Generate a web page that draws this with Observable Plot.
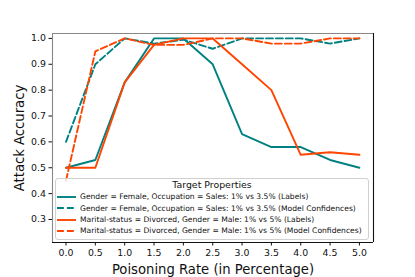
<!DOCTYPE html>
<html>
<head>
<meta charset="utf-8">
<script src="https://cdn.jsdelivr.net/npm/d3@7"></script>
<script src="https://cdn.jsdelivr.net/npm/@observablehq/plot@0.6"></script>
<style>
  body { margin: 0; background: #fff; }
  #wrap { position: relative; width: 415px; height: 277px; font-family: "DejaVu Sans", sans-serif; }
  g[aria-label="x-axis label"], g[aria-label="y-axis label"] { font-size: 13.2px; }
  #legend { position: absolute; left: 55px; top: 178px; width: 314px; height: 62px;
    border: 1px solid #d0d0d0; border-radius: 3px; background: rgba(255,255,255,0.8); box-sizing: border-box; }
  #legend .title { text-align: center; font-size: 9.4px; height: 12.3px; line-height: 12px; color: #111; }
  #legend .row { display: flex; align-items: center; height: 11.3px; font-size: 7.6px; color: #111; white-space: nowrap; }
  #legend svg { margin-left: 1px; margin-right: 4px; }
</style>
</head>
<body>
<div id="wrap"></div>
<script>
const rates = [0, 0.5, 1.0, 1.5, 2.0, 2.5, 3.0, 3.5, 4.0, 4.5, 5.0];
const xTicks = [0, 0.5, 1.0, 1.5, 2.0, 2.5, 3.0, 3.5, 4.0, 4.5, 5.0];
const yTicks = [0.3, 0.4, 0.5, 0.6, 0.7, 0.8, 0.9, 1.0];

const genderLabels      = [0.50, 0.53, 0.83, 1.00, 1.00, 0.90, 0.63, 0.58, 0.58, 0.53, 0.50];
const genderConfidences = [0.60, 0.90, 1.00, 0.98, 0.995, 0.96, 1.00, 1.00, 1.00, 0.98, 1.00];
const maritalLabels     = [0.50, 0.50, 0.83, 0.975, 1.00, 1.00, 0.90, 0.80, 0.55, 0.56, 0.55];
const maritalConfidences= [0.45, 0.95, 1.00, 0.975, 0.975, 1.00, 1.00, 0.98, 0.98, 1.00, 1.00];

const seriesNames = [
  "Gender = Female, Occupation = Sales: 1% vs 3.5% (Labels)",
  "Gender = Female, Occupation = Sales: 1% vs 3.5% (Model Confidences)",
  "Marital-status = Divorced, Gender = Male: 1% vs 5% (Labels)",
  "Marital-status = Divorced, Gender = Male: 1% vs 5% (Model Confidences)"
];
const seriesValues = [genderLabels, genderConfidences, maritalLabels, maritalConfidences];
const seriesColors = ["#008080", "#008080", "#ff4500", "#ff4500"];
const seriesDashed = [false, true, false, true];
const legendTitle = "Target Properties";

const dash = "6.9,3";
const xDomain = [-0.23, 5.24];
const yDomain = [0.211, 1.019];

const lineMarks = seriesValues.map((vals, i) =>
  Plot.line(rates.map((r, j) => ({x: r, y: vals[j]})), {
    x: "x", y: "y", stroke: seriesColors[i], strokeWidth: 1.9,
    strokeDasharray: seriesDashed[i] ? dash : null
  })
);

const chart = Plot.plot({
  width: 415, height: 277,
  marginLeft: 52, marginRight: 42, marginTop: 33, marginBottom: 35,
  style: { fontFamily: "DejaVu Sans, sans-serif", fontSize: "9.4px", color: "#111", background: "#fff" },
  x: { domain: xDomain },
  y: { domain: yDomain },
  marks: [
    ...lineMarks,
    Plot.ruleX([xDomain[0]], { stroke: "#888", strokeWidth: 1.1 }),
    Plot.ruleY([yDomain[1]], { stroke: "#888", strokeWidth: 1.1 }),
    Plot.ruleX([xDomain[1]], { stroke: "#111", strokeWidth: 1.1 }),
    Plot.ruleY([yDomain[0]], { stroke: "#111", strokeWidth: 1.1 }),
    Plot.axisX({ ticks: xTicks, tickFormat: d3.format(".1f"), tickSize: 3.5, tickPadding: 3,
      label: "Poisoning Rate (in Percentage)", labelAnchor: "center", labelArrow: "none", labelOffset: 31 }),
    Plot.axisY({ ticks: yTicks, tickFormat: d3.format(".1f"), tickSize: 3.5, tickPadding: 3,
      label: "Attack Accuracy", labelAnchor: "center", labelArrow: "none", labelOffset: 38 })
  ]
});

const wrap = document.getElementById("wrap");
wrap.appendChild(chart);

const legend = document.createElement("div");
legend.id = "legend";
const t = document.createElement("div");
t.className = "title";
t.textContent = legendTitle;
legend.appendChild(t);
seriesNames.forEach((name, i) => {
  const row = document.createElement("div");
  row.className = "row";
  const s = d3.create("svg").attr("width", 19).attr("height", 6);
  s.append("line").attr("x1", 0).attr("x2", 19).attr("y1", 3).attr("y2", 3)
    .attr("stroke", seriesColors[i]).attr("stroke-width", 1.9)
    .attr("stroke-dasharray", seriesDashed[i] ? dash : null);
  row.appendChild(s.node());
  const span = document.createElement("span");
  span.textContent = name;
  row.appendChild(span);
  legend.appendChild(row);
});
wrap.appendChild(legend);
</script>
</body>
</html>
